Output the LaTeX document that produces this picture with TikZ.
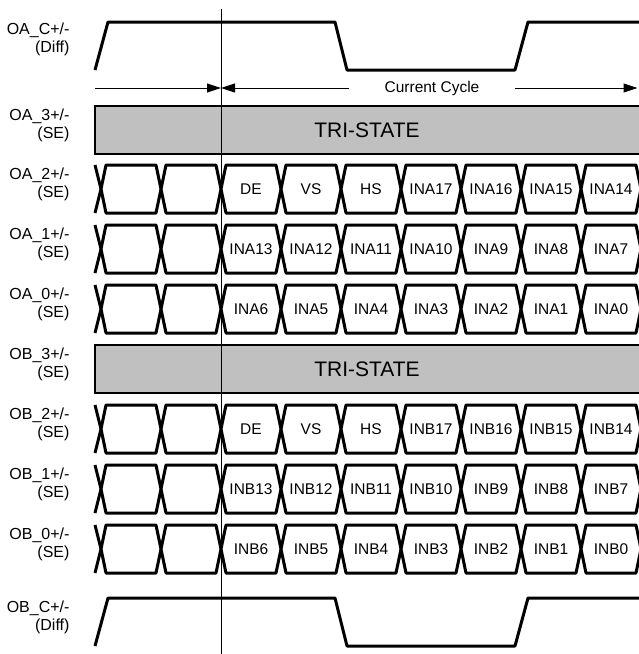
\documentclass[tikz,border=0pt]{standalone}
\usepackage{fontspec}
\setmainfont{Liberation Sans}
\usetikzlibrary{arrows.meta}
\definecolor{trifill}{HTML}{C0C0C0}

\begin{document}
\begin{tikzpicture}[x=1pt,y=-1pt,
    sig/.style={line width=3pt,line join=round},
    arr/.style={line width=1pt,-{Triangle[length=14pt,width=9pt]}},
    celltxt/.style={font=\fontsize{15.5}{18}\selectfont},
    lbl/.style={anchor=east,align=right,font=\fontsize{16}{18}\selectfont},
    tribox/.style={fill=trifill,draw,line width=2pt}]
    \useasboundingbox (0,0) rectangle (638,654);
    % clocks
    \draw[sig] (95,70) -- (108,22) -- (335,22) -- (347,70) -- (515,70) -- (528,22) -- (650,22);
    \draw[sig] (95,646) -- (108,598) -- (335,598) -- (347,646) -- (515,646) -- (528,598) -- (650,598);
    \node[lbl] (oacl) at (73,39) {OA\_C+/-\\(Diff)};
    \node[lbl] (obcl) at (73,617) {OB\_C+/-\\(Diff)};
    % cycle marker
    \coordinate (mark) at (221,88);
    \coordinate (lstart) at (95,88);
    \coordinate (rend) at (637.5,88);
    \node[celltxt,inner xsep=35pt] (cycle) at (432,88) {Current Cycle};
    \draw[arr] (lstart) -- (mark);
    \draw[arr] (cycle.west) -- (mark);
    \draw[arr] (cycle.east) -- (rend);
    % tri-state lanes
    \foreach \t/\nm/\txt in {106/oa3/OA\_3, 345/ob3/OB\_3} {
        \draw[tribox] (95,\t) rectangle (660,\t+48);
        \node[font=\fontsize{21}{24}\selectfont] (\nm) at (367,\t+24) {TRI-STATE};
        \node[lbl] (\nm l) at (73,\t+19) {\txt+/-\\(SE)};
    }
    % data lanes
    \foreach \t/\nm/\txt/\cells in {
        165/oa2/OA\_2/{DE,VS,HS,INA17,INA16,INA15,INA14},
        225/oa1/OA\_1/{INA13,INA12,INA11,INA10,INA9,INA8,INA7},
        285/oa0/OA\_0/{INA6,INA5,INA4,INA3,INA2,INA1,INA0},
        405/ob2/OB\_2/{DE,VS,HS,INB17,INB16,INB15,INB14},
        465/ob1/OB\_1/{INB13,INB12,INB11,INB10,INB9,INB8,INB7},
        525/ob0/OB\_0/{INB6,INB5,INB4,INB3,INB2,INB1,INB0}} {
        \node[lbl] (\nm l) at (73,\t+19) {\txt+/-\\(SE)};
        \draw[sig] (95,\t) -- (101,\t+24) -- (95,\t+48);
        \foreach \k in {0,...,8}
            \draw[sig] (101+60*\k,\t+24) -- (106+60*\k,\t) -- (156+60*\k,\t)
                -- (161+60*\k,\t+24) -- (156+60*\k,\t+48) -- (106+60*\k,\t+48) -- cycle;
        \foreach \c [count=\k from 2] in \cells
            \node[celltxt] (\nm-\k) at (131+60*\k,\t+24) {\c};
    }
    % cycle boundary
    \draw[line width=0.9pt] (221,9) -- (221,654);
\end{tikzpicture}
\end{document}
